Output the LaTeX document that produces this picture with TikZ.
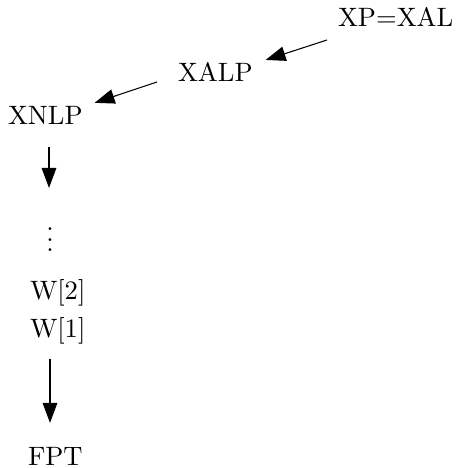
\documentclass[tikz,border=0pt]{standalone}
\usetikzlibrary{arrows.meta,calc}
\begin{document}
\begin{tikzpicture}[x=0.376pt,y=-0.376pt,
  lbl/.style={inner sep=0pt,outer sep=0pt,font=\fontsize{10}{12}\selectfont},
  arr/.style={line width=0.4pt,-{Triangle[length=7.5pt,width=5.5pt]}}]
\useasboundingbox (0,0) rectangle (458,468);
\node[lbl,anchor=base west] (xp) at (338,27) {XP=XAL};
\node[lbl,anchor=base west] (xalp) at (178,82) {XALP};
\node[lbl,anchor=base west] (xnlp) at (8,125) {XNLP};
\node[lbl,anchor=base] (dots) at (50,252) {$\vdots$};
\node[lbl,anchor=base west] (w2) at (30,300) {W[2]};
\node[lbl,anchor=base west] (w1) at (30,337) {W[1]};
\node[lbl,anchor=base west] (fpt) at (28,465) {FPT};
\draw[arr] ($(xp.south west)+(-11,13)$) -- ($(xalp.north east)+(13,-3)$);
\draw[arr] ($(xalp.south west)+(-21,0)$) -- ($(xnlp.north east)+(12,-4)$);
\draw[arr] ($(xnlp.south west)+(41,22)$) -- ($(dots.north)+(-1,-24)$);
\draw[arr] ($(w1.south west)+(20,15)$) -- ($(fpt.north west)+(22,-24)$);
\end{tikzpicture}
\end{document}
